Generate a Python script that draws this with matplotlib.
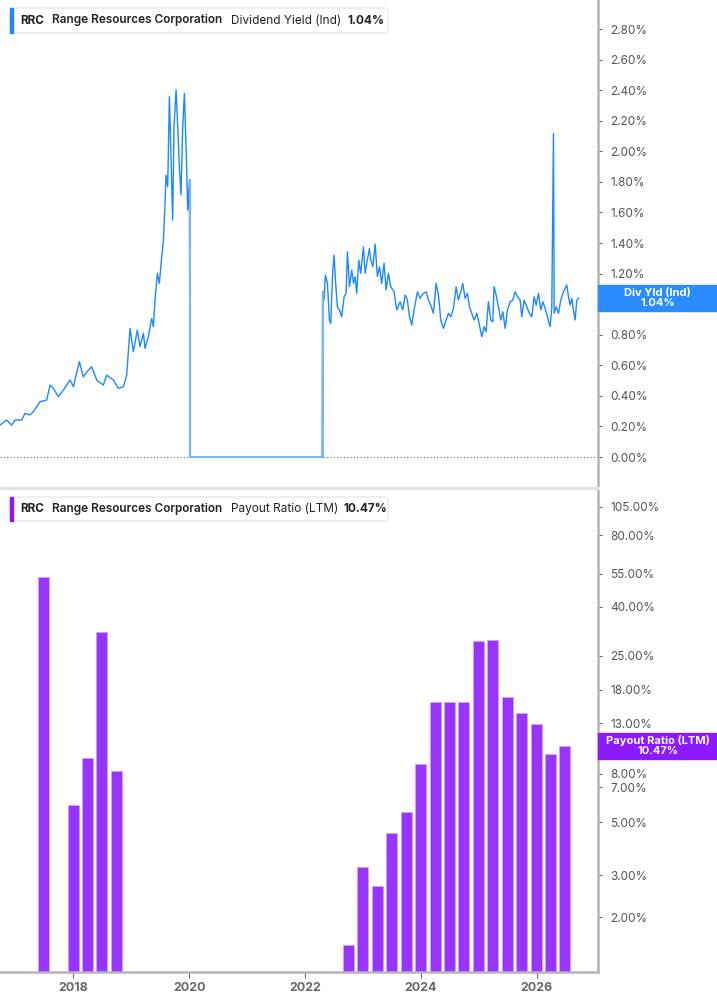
import matplotlib
matplotlib.use("Agg")
import matplotlib.pyplot as plt
import matplotlib.transforms as mtransforms
from matplotlib.lines import Line2D
from matplotlib.patches import FancyBboxPatch, Rectangle
from matplotlib.ticker import NullLocator

plt.rcParams['font.family'] = ['Inter', 'DejaVu Sans']

W, H = 717, 1005

# Dividend Yield (Ind), % -- x in decimal years
yld_year = [
    2016.734, 2016.849, 2016.935, 2016.993, 2017.108, 2017.166, 2017.252, 2017.310,
    2017.425, 2017.540, 2017.598, 2017.655, 2017.742, 2017.828, 2017.885, 2017.943,
    2018.001, 2018.104, 2018.173, 2018.260, 2018.317, 2018.404, 2018.519, 2018.576,
    2018.691, 2018.778, 2018.864, 2018.922, 2018.979, 2019.037, 2019.106, 2019.152,
    2019.210, 2019.238, 2019.296, 2019.353, 2019.382, 2019.411, 2019.451, 2019.486,
    2019.526, 2019.555, 2019.584, 2019.601, 2019.630, 2019.659, 2019.682, 2019.716,
    2019.739, 2019.774, 2019.803, 2019.831, 2019.860, 2019.889, 2019.918, 2019.947,
    2019.975, 2020.004, 2020.016, 2022.300,
    2022.307, 2022.330, 2022.353, 2022.388, 2022.422, 2022.445, 2022.480, 2022.503,
    2022.526, 2022.560, 2022.595, 2022.635, 2022.676, 2022.710, 2022.733, 2022.768,
    2022.808, 2022.837, 2022.866, 2022.894, 2022.929, 2022.963, 2023.009, 2023.038,
    2023.079, 2023.113, 2023.136, 2023.171, 2023.211, 2023.251, 2023.286, 2023.326,
    2023.366, 2023.401, 2023.441, 2023.481, 2023.539, 2023.585, 2023.643, 2023.689,
    2023.729, 2023.769, 2023.804, 2023.844, 2023.884, 2023.942, 2023.988, 2024.046,
    2024.092, 2024.132, 2024.172, 2024.218, 2024.264, 2024.305, 2024.345, 2024.391,
    2024.437, 2024.477, 2024.518, 2024.564, 2024.610, 2024.650, 2024.690, 2024.725,
    2024.765, 2024.806, 2024.840, 2024.880, 2024.921, 2024.967, 2025.007, 2025.053,
    2025.093, 2025.128, 2025.168, 2025.209, 2025.243, 2025.266, 2025.301, 2025.341,
    2025.381, 2025.416, 2025.456, 2025.497, 2025.543, 2025.589, 2025.629, 2025.669,
    2025.715, 2025.744, 2025.784, 2025.830, 2025.876, 2025.917, 2025.957, 2025.992,
    2026.032, 2026.072, 2026.107, 2026.147, 2026.187, 2026.233, 2026.262, 2026.291,
    2026.303, 2026.337, 2026.377, 2026.418, 2026.452, 2026.492, 2026.521, 2026.550,
    2026.579, 2026.608, 2026.636, 2026.665, 2026.694, 2026.729,
]
yld_val = [
    0.209, 0.242, 0.209, 0.242, 0.242, 0.286, 0.275, 0.297,
    0.362, 0.373, 0.471, 0.449, 0.395, 0.438, 0.471, 0.504,
    0.460, 0.624, 0.525, 0.569, 0.591, 0.504, 0.471, 0.536,
    0.504, 0.449, 0.460, 0.536, 0.842, 0.689, 0.831, 0.722,
    0.809, 0.711, 0.787, 0.907, 0.852, 1.027, 1.202, 1.136,
    1.310, 1.409, 1.660, 1.845, 1.768, 2.357, 2.030, 1.550,
    2.161, 2.401, 2.161, 1.899, 1.714, 2.161, 2.379, 2.030,
    1.616, 1.812, 0.000, 0.000,
    1.081, 1.027, 1.191, 1.136, 0.896, 0.874, 1.223, 1.321,
    1.158, 0.983, 0.962, 0.918, 1.049, 1.071, 1.343, 1.114,
    1.223, 1.136, 1.180, 1.071, 1.289, 1.202, 1.376, 1.202,
    1.289, 1.365, 1.289, 1.245, 1.393, 1.180, 1.245, 1.136,
    1.267, 1.093, 1.202, 1.114, 1.081, 0.962, 1.016, 0.962,
    1.060, 1.027, 0.918, 0.864, 0.962, 1.081, 1.038, 1.071,
    1.081, 1.027, 0.994, 0.940, 1.136, 1.060, 0.896, 0.842,
    0.896, 0.940, 0.918, 0.973, 1.114, 1.027, 1.081, 1.136,
    1.038, 1.071, 0.983, 0.940, 0.896, 0.940, 0.874, 0.787,
    0.853, 0.820, 1.016, 0.896, 0.885, 1.114, 1.060, 0.983,
    0.896, 0.951, 0.842, 0.962, 1.016, 1.027, 1.081, 1.049,
    1.027, 0.918, 1.027, 0.983, 0.940, 0.918, 1.049, 0.994,
    1.071, 0.962, 1.016, 0.973, 0.918, 0.853, 0.973, 2.117,
    0.940, 0.983, 0.940, 1.027, 1.071, 1.103, 1.125, 1.049,
    0.994, 1.038, 0.962, 0.896, 1.027, 1.040,
]
yld_last = 1.04

# Payout Ratio (LTM), % -- quarterly
payout_year = [
    2017.49, 2017.997, 2018.246, 2018.49, 2018.745,
    2022.745, 2022.997, 2023.246, 2023.49, 2023.745, 2023.997, 2024.247, 2024.49,
    2024.745, 2024.997, 2025.246, 2025.49, 2025.745, 2025.997, 2026.246, 2026.49,
]
payout_val = [
    53.2, 5.9, 9.26, 31.4, 8.22,
    1.53, 3.23, 2.70, 4.50, 5.53, 8.77, 15.9, 16.0,
    16.0, 28.8, 29.0, 16.8, 14.4, 12.9, 9.63, 10.47,
]
payout_last = 10.47

yld_ticks = [0.0, 0.2, 0.4, 0.6, 0.8, 1.0, 1.2, 1.4, 1.6, 1.8, 2.0, 2.2, 2.4, 2.6, 2.8]
payout_ticks = [2, 3, 5, 7, 8, 13, 18, 25, 40, 55, 80, 105]
year_ticks = [2018, 2020, 2022, 2024, 2026]

BLUE = '#1e88ff'
PURPLE = '#9933ff'
AXIS_GRAY = '#b5b5b5'
TXT = '#555555'


def fx(x):
    return x / W


def fy(y):
    return 1 - y / H


fig = plt.figure(figsize=(W / 100, H / 100), dpi=100)
ax1 = fig.add_axes([0, fy(487), fx(598), fy(0) - fy(487)])
ax2 = fig.add_axes([0, fy(972), fx(598), fy(490) - fy(972)])

xlim = (2016.734, 2027.06)

# --- top panel: dividend yield
ax1.plot(yld_year, yld_val, color=BLUE, lw=1.0)
# the gap where the dividend was suspended is drawn lighter
gap = [i for i, v in enumerate(yld_val) if v == 0]
g0, g1 = gap[0] - 1, gap[-1] + 2
ax1.plot(yld_year[g0 + 1:g1], yld_val[g0 + 1:g1], color='#74b6ff', lw=1.4, zorder=3)
ax1.plot([yld_year[g0 + 1], yld_year[g0 + 1]], [0, yld_val[g0]], color='#74b6ff', lw=1.4)
ax1.plot([yld_year[g1 - 1], yld_year[g1 - 1]], [0, yld_val[g1 - 1]], color='#74b6ff', lw=1.4)
ax1.axhline(0, color='#666666', lw=0.8, ls=(0, (1, 2)))
ax1.set_xlim(*xlim)
ax1.set_ylim(-0.196, 2.99)
ax1.set_yticks(yld_ticks)
ax1.set_yticklabels([f"{v:.2f}%" for v in yld_ticks])
ax1.set_xticks([])

# --- bottom panel: payout ratio (log)
ax2.set_yscale('log')
ax2.bar(payout_year, [v - 0.5 for v in payout_val], bottom=0.5, width=0.19,
        color=PURPLE, edgecolor='#c9a3ff', lw=0.6)
ax2.set_xlim(*xlim)
ax2.set_ylim(1.176, 123.7)
ax2.yaxis.set_minor_locator(NullLocator())
ax2.set_yticks(payout_ticks)
ax2.set_yticklabels([f"{v:.2f}%" for v in payout_ticks])
ax2.set_xticks(year_ticks)
ax2.set_xticklabels([str(y) for y in year_ticks], fontweight='bold')

for ax in (ax1, ax2):
    ax.patch.set_alpha(0)
    ax.yaxis.tick_right()
    for s in ('top', 'left'):
        ax.spines[s].set_visible(False)
    ax.spines['right'].set_color(AXIS_GRAY)
    ax.spines['right'].set_linewidth(1.8)
    ax.tick_params(axis='y', direction='out', length=3, width=0.8, color='#666666',
                   labelsize=8.5, labelcolor=TXT, pad=6)
ax1.spines['bottom'].set_visible(False)
ax2.spines['bottom'].set_color(AXIS_GRAY)
ax2.spines['bottom'].set_linewidth(1.8)
ax2.tick_params(axis='x', direction='out', length=4, width=0.8, color='#666666',
                labelsize=9, labelcolor='#666666', pad=3)

# separator between panels
fig.add_artist(Line2D([0, fx(598)], [fy(488), fy(488)], color='#e3e3e3', lw=2.5))

# --- last-value tags on the right axis
tr1 = mtransforms.blended_transform_factory(fig.transFigure, ax1.transData)
ax1.add_patch(Rectangle((fx(598), yld_last - 0.085), fx(717) - fx(598), 0.17,
                        transform=tr1, color='#2a8cff', clip_on=False, zorder=5))
ax1.text(fx(657.5), yld_last, f"Div Yld (Ind)\n{yld_last:.2f}%", transform=tr1,
         ha='center', va='center', color='white', fontsize=8, fontweight='bold',
         linespacing=1.0, zorder=6, clip_on=False)

tr2 = mtransforms.blended_transform_factory(fig.transFigure, ax2.transData)
f = 10 ** (13 / 238.4)
ax2.add_patch(Rectangle((fx(598), payout_last / f), fx(717) - fx(598),
                        payout_last * f - payout_last / f,
                        transform=tr2, color='#8c1aff', clip_on=False, zorder=5))
ax2.text(fx(657.5), payout_last, f"Payout Ratio (LTM)\n{payout_last:.2f}%", transform=tr2,
         ha='center', va='center', color='white', fontsize=8, fontweight='bold',
         linespacing=1.0, zorder=6, clip_on=False)


# --- legend boxes
def legend_box(y0, y1, color, metric, value):
    fig.add_artist(FancyBboxPatch((fx(10), fy(y1)), fx(388) - fx(10), fy(y0) - fy(y1),
                                  boxstyle='round,pad=0,rounding_size=0.004',
                                  transform=fig.transFigure, facecolor='white',
                                  edgecolor='#e4e4e4', lw=0.8))
    fig.add_artist(Rectangle((fx(10), fy(y1)), fx(13) - fx(10), fy(y0) - fy(y1),
                             transform=fig.transFigure, color=color))
    yc = fy((y0 + y1) / 2)
    kw = dict(va='center', ha='left', fontsize=8.5, color='#222222')
    fig.text(fx(20), yc, "RRC", fontweight='bold', **kw)
    fig.text(fx(52), yc, "Range Resources Corporation", fontweight='semibold', **kw)
    fig.text(fx(231), yc, metric, fontweight='normal', **kw)
    fig.text(fx(value[1]), yc, value[0], fontweight='bold', **kw)


legend_box(8, 33, BLUE, "Dividend Yield (Ind)", (f"{yld_last:.2f}%", 347))
legend_box(497, 521, '#8c1aff', "Payout Ratio (LTM)", (f"{payout_last:.2f}%", 343))

fig.savefig("out.png", dpi=100)
